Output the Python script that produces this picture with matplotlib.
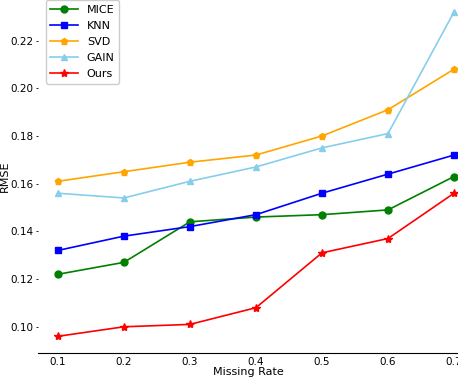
import matplotlib.pyplot as plt

rates = [0.1, 0.2, 0.3, 0.4, 0.5, 0.6, 0.7]
mice = [0.122, 0.127, 0.144, 0.146, 0.147, 0.149, 0.163]
knn = [0.132, 0.138, 0.142, 0.147, 0.156, 0.164, 0.172]
svd = [0.161, 0.165, 0.169, 0.172, 0.180, 0.191, 0.208]
gain = [0.156, 0.154, 0.161, 0.167, 0.175, 0.181, 0.232]
ours = [0.096, 0.100, 0.101, 0.108, 0.131, 0.137, 0.156]

fig = plt.figure(figsize=(4.58, 3.8), dpi=100)
ax = fig.add_axes([0.083, 0.071, 0.917, 0.929])

lw = 1.2
ax.plot(rates, mice, color='green', marker='o', markersize=5, lw=lw, label='MICE', clip_on=False)
ax.plot(rates, knn, color='blue', marker='s', markersize=5, lw=lw, label='KNN', clip_on=False)
ax.plot(rates, svd, color='orange', marker='p', markersize=5, lw=lw, label='SVD', clip_on=False)
ax.plot(rates, gain, color='skyblue', marker='^', markersize=5, lw=lw, label='GAIN', clip_on=False)
ax.plot(rates, ours, color='red', marker='*', markersize=6, lw=lw, label='Ours', clip_on=False)

ax.set_xlim(0.07, 0.706)
ax.set_ylim(0.089, 0.237)
ax.set_xticks(rates)
ax.set_yticks([0.10, 0.12, 0.14, 0.16, 0.18, 0.20, 0.22])
ax.set_yticklabels(['0.10', '0.12', '0.14', '0.16', '0.18', '0.20', '0.22'])
ax.tick_params(labelsize=7.5)
ax.tick_params(axis='x', length=0, pad=3)
ax.tick_params(axis='y', length=1.5, width=0.6, pad=2)

for s in ['top', 'right', 'left']:
    ax.spines[s].set_visible(False)
ax.spines['bottom'].set_linewidth(0.8)

ax.set_xlabel('Missing Rate', fontsize=8, labelpad=0)
ax.set_ylabel('RMSE', fontsize=8, labelpad=0)

ax.legend(loc='upper left', bbox_to_anchor=(0.005, 1.015), fontsize=8, framealpha=1,
          handlelength=2.5, borderpad=0.4, labelspacing=0.55)

fig.savefig('out.png')
